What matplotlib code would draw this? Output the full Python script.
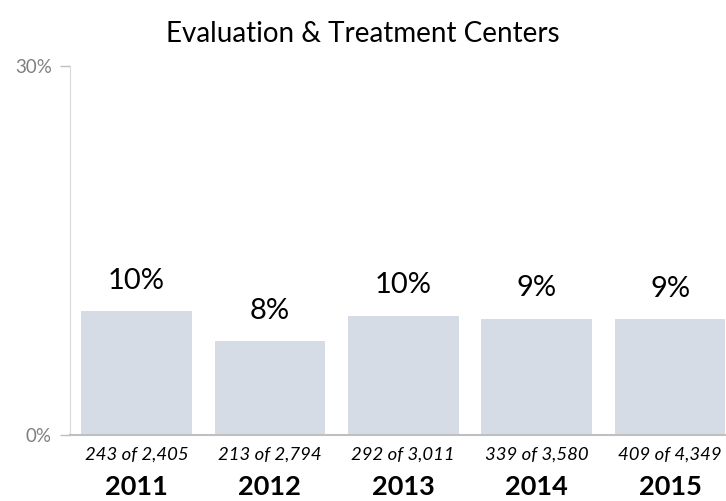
import matplotlib
matplotlib.use("Agg")
import matplotlib.pyplot as plt
from matplotlib.ticker import FuncFormatter

plt.rcParams['font.family'] = ['Lato', 'DejaVu Sans']

years = ['2011', '2012', '2013', '2014', '2015']
counts = [243, 213, 292, 339, 409]
totals = [2405, 2794, 3011, 3580, 4349]
rates = [c / t * 100 for c, t in zip(counts, totals)]

fig = plt.figure(figsize=(7.26, 5.01), dpi=100)
ax = fig.add_axes([69.8 / 726, 66 / 501, 667 / 726, 369 / 501])

x = range(len(years))
ax.bar(x, rates, width=0.83, color='#d6dce5')

for i, r in enumerate(rates):
    ax.text(i, r + 1.4, f"{round(r)}%", ha='center', va='bottom', fontsize=21)

ax.set_xlim(-0.5, 4.5)
ax.set_ylim(0, 30)
ax.set_yticks([0, 30])
ax.yaxis.set_major_formatter(FuncFormatter(lambda v, p: f"{v:.0f}%"))
ax.tick_params(axis='y', colors='#7f7f7f', labelsize=13.5, length=7, width=1, color='#bfbfbf', pad=6)
ax.tick_params(axis='x', length=0, labelbottom=False)
for s in ['top', 'right']:
    ax.spines[s].set_visible(False)
ax.spines['left'].set_color('#d9d9d9')
ax.spines['bottom'].set_color('#bfbfbf')
ax.spines['bottom'].set_linewidth(1.5)

for i, (c, t, y) in enumerate(zip(counts, totals, years)):
    ax.text(i, -0.052, f"{c} of {t:,}", transform=ax.get_xaxis_transform(),
            ha='center', va='center', fontsize=13.3, style='italic')
    ax.text(i, -0.142, y, transform=ax.get_xaxis_transform(),
            ha='center', va='center', fontsize=19.5, fontweight='bold')

fig.text(0.5, 467 / 501, "Evaluation & Treatment Centers", ha='center', va='center', fontsize=20)

fig.savefig("out.png", dpi=100)
